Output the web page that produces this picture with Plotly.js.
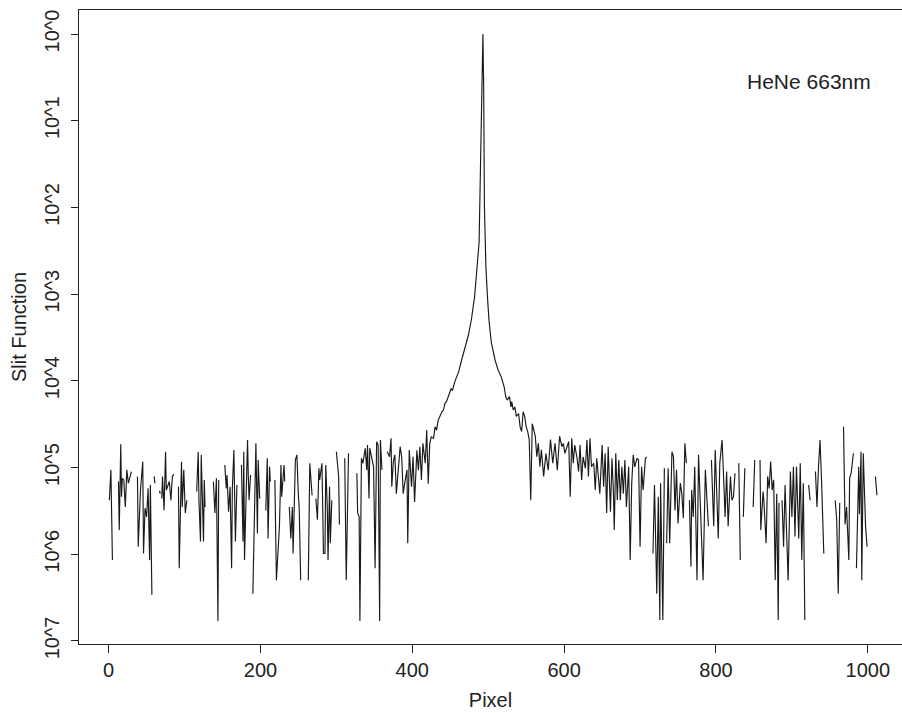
<!DOCTYPE html>
<html>
<head>
<meta charset="utf-8">
<script src="https://cdn.plot.ly/plotly-3.0.1.min.js"></script>
<style>html,body{margin:0;padding:0;background:#fff;}#chart{width:902px;height:713px;}</style>
</head>
<body>
<div id="chart"></div>
<script>
// Pixel index and slit-function value (null = non-positive value, not drawn on log axis)
const pixel = [
1,3,5,9,13,14,16,17,18,20,22,24,26,28,30,34,38,39,42,45,46,48,50,52,54,55,57,58,60,61,64,67,68,69,
70,71,73,75,76,80,82,84,86,89,92,93,96,97,99,101,103,110,116,118,119,121,122,125,126,127,132,
138,140,142,144,145,149,153,155,156,158,160,162,163,165,167,169,172,175,177,178,179,181,183,184,185,187,188,
190,194,196,197,199,203,207,209,210,212,213,216,219,221,225,227,228,231,232,235,238,240,242,243,246,248,250,251,253,258,
263,265,268,270,273,275,277,278,281,283,285,286,288,289,291,292,294,297,300,303,304,308,311,313,316,321,
327,328,330,331,333,335,338,340,341,343,344,346,349,351,353,355,357,358,360,364,
367,370,372,373,375,377,379,382,384,386,388,390,393,394,396,399,401,403,406,408,410,412,414,417,419,421,423,425,428,
430,432,434,436,439,441,443,445,447,449,451,453,456,461,465,469,474,478,482,485,487,488,493,494,495,496,497,499,
501,504,509,513,517,521,523,525,528,530,531,533,535,537,540,542,544,546,548,550,552,554,556,558,562,564,566,568,570,
573,576,579,582,585,588,591,594,597,599,601,603,606,608,610,612,614,617,619,621,623,625,628,630,632,634,636,639,641,
643,645,647,650,652,654,656,658,661,663,665,666,668,670,672,674,676,678,680,682,685,687,689,691,693,696,698,700,702,
704,707,709,713,717,719,722,724,726,727,730,732,733,735,737,739,742,744,746,748,750,753,755,757,759,761,763,
765,767,768,770,772,775,777,779,781,783,786,788,790,792,794,797,799,801,803,805,808,810,812,814,816,819,821,823,825,827,
830,832,834,836,838,843,849,851,855,858,859,862,863,866,868,870,872,874,876,878,880,882,883,885,
887,889,891,893,895,898,900,902,904,906,909,911,913,915,917,919,922,924,927,931,933,935,937,939,942,950,
957,959,961,963,965,968,969,970,972,975,976,978,981,983,985,988,989,991,992,994,997,999,1005,1010,1012
];
const slit = [
4.2e-6,9.4e-6,8.6e-7,null,6.9e-6,1.9e-6,1.86e-5,4.6e-6,7.5e-6,7.2e-6,3.5e-6,9.4e-6,6.6e-6,7.9e-6,9.0e-6,null,7.9e-6,1.22e-6,5.5e-6,1.17e-5,1.02e-6,3.4e-6,2.7e-6,5.75e-6,8.6e-7,6.3e-6,3.4e-7,null,7.9e-6,6.6e-6,null,5.4e-6,5.0e-6,null,
4.4e-6,7.9e-6,3.2e-6,1.52e-5,5.5e-6,6.9e-6,4.2e-6,7.9e-6,8.4e-6,null,6.0e-6,6.9e-7,1.17e-5,3.5e-6,9.4e-6,3.0e-6,4.2e-6,null,5.3e-6,1.52e-5,4.2e-6,1.4e-6,1.4e-5,1.4e-6,7.2e-6,3.5e-6,null,
6.9e-6,3.0e-6,7.5e-6,1.7e-7,7.2e-6,null,1.07e-5,5.75e-6,8.2e-6,3.1e-6,6.0e-6,6.9e-7,5.75e-6,1.59e-5,1.4e-6,6.3e-6,null,1.07e-5,1.4e-6,1.52e-5,8.6e-7,4.2e-6,2.08e-5,7.9e-6,4.2e-6,8.2e-6,null,
3.5e-7,1.9e-5,1.74e-6,1.22e-5,4.4e-6,null,3.2e-6,1.28e-5,1.52e-6,1.02e-5,6.9e-6,null,7.2e-6,5.0e-7,2.1e-6,1.07e-5,4.6e-6,1.07e-5,6.9e-6,null,3.5e-6,1.52e-6,3.5e-6,1.02e-6,1.22e-5,1.4e-5,4.6e-6,3.5e-6,5.0e-7,null,
5.0e-7,1.12e-5,4.8e-6,null,4.4e-6,2.5e-6,9.8e-6,7.2e-6,1.12e-5,1.02e-6,1.02e-6,1.07e-5,3.5e-6,8.6e-7,6.0e-6,1.34e-6,4.2e-6,null,1.52e-5,7.9e-6,2.2e-6,null,1.28e-5,5.0e-7,1.46e-5,null,
8.6e-6,3.0e-6,2.7e-6,1.7e-7,1.28e-5,1.12e-5,1.67e-5,9.4e-6,1.82e-5,4.4e-6,1.67e-5,1.4e-5,1.02e-5,6.9e-7,1.99e-5,1.82e-5,1.7e-7,2.08e-5,9.4e-6,null,
1.52e-5,1.33e-5,2.17e-5,6.0e-6,1.17e-5,1.4e-5,5.0e-6,9.4e-6,1.74e-5,1.33e-5,5.0e-6,6.6e-6,9.4e-6,1.34e-6,1.59e-5,6.0e-6,1.33e-5,4.0e-6,1.58e-5,9.3e-6,1.74e-5,7.2e-6,1.9e-5,1.12e-5,2.7e-5,6.5e-6,1.9e-5,2.26e-5,2.17e-5,
2.95e-5,2.7e-5,3.5e-5,3.9e-5,4.4e-5,4.6e-5,5.5e-5,5.75e-5,6.6e-5,7.2e-5,8.1e-5,7.8e-5,9.8e-5,1.27e-4,1.74e-4,2.37e-4,3.4e-4,5.2e-4,9.3e-4,1.9e-3,3.2e-3,4.0e-3,1.0,0.25,0.01,2.8e-3,2.0e-3,9.3e-4,
5.0e-4,2.8e-4,1.74e-4,1.33e-4,1.12e-4,8.5e-5,6.6e-5,6.0e-5,6.6e-5,5.0e-5,5.75e-5,4.6e-5,5.0e-5,3.9e-5,4.2e-5,2.95e-5,2.6e-5,4.4e-5,3.9e-5,2.95e-5,2.6e-5,2.1e-5,4.2e-6,3.2e-5,2.3e-5,1.33e-5,1.9e-5,1.02e-5,1.6e-5,
7.9e-6,1.45e-5,9.3e-6,2.1e-5,1.12e-5,1.9e-5,9.3e-6,2.3e-5,1.74e-5,1.9e-5,1.46e-5,1.67e-5,1.99e-5,4.6e-6,2.17e-5,1.12e-5,1.82e-5,1.28e-5,9.0e-6,1.82e-5,7.2e-6,1.33e-5,9.8e-6,2.08e-5,7.9e-6,2.17e-5,1.02e-5,1.12e-5,5.5e-6,
1.28e-5,7.2e-6,5.0e-6,1.82e-5,6.0e-6,1.46e-5,3.0e-6,1.74e-5,3.1e-6,1.28e-5,5.0e-6,1.9e-6,1.46e-5,4.2e-6,1.22e-5,4.2e-6,1.02e-5,5.0e-6,1.22e-5,3.5e-6,1.02e-5,8.6e-7,6.6e-6,1.4e-5,1.02e-5,1.28e-5,1.22e-5,1.22e-6,1.02e-5,
5.5e-6,1.28e-5,1.33e-5,null,1.02e-6,6.3e-6,3.5e-7,4.6e-6,1.75e-7,6.6e-6,1.75e-7,9.8e-6,null,1.34e-6,9.8e-6,1.34e-6,1.52e-5,1.33e-5,3.2e-6,9.4e-6,2.27e-6,6.6e-6,5.0e-6,2.6e-6,1.9e-5,1.12e-5,null,
4.2e-6,7.2e-7,5.5e-6,2.7e-6,1.02e-5,5.0e-7,1.4e-5,3.9e-6,1.02e-6,5.0e-7,9.4e-6,3.9e-6,2.1e-6,null,1.22e-5,2.1e-6,1.59e-5,5.5e-6,1.52e-6,1.12e-5,2.08e-5,7.9e-6,2.7e-6,9.0e-6,2.1e-6,7.9e-6,4.2e-6,4.6e-6,8.6e-6,null,
1.12e-5,8.6e-7,null,2.7e-6,9.8e-6,null,3.5e-6,1.22e-5,null,1.22e-5,1.9e-6,5.3e-6,4.2e-6,1.34e-6,7.9e-6,5.75e-6,1.17e-5,5.5e-6,7.2e-6,5.0e-7,5.0e-6,1.75e-7,3.9e-6,null,
4.2e-6,1.22e-6,6.3e-6,1.52e-6,5.0e-7,9.0e-6,2.7e-6,1.02e-5,1.6e-6,1.02e-5,1.52e-6,1.12e-5,8.6e-7,6.6e-6,1.75e-7,null,6.3e-6,4.2e-6,null,9.0e-6,3.5e-6,1.02e-5,2.08e-5,7.2e-6,1.02e-6,null,
4.2e-6,2.5e-6,3.5e-7,3.9e-6,null,2.95e-5,8.2e-6,2.2e-6,3.5e-6,8.6e-7,7.5e-6,8.6e-6,1.46e-5,null,6.9e-7,1.02e-5,2.9e-6,1.52e-5,5.0e-7,1.46e-5,2.1e-6,1.22e-6,null,7.9e-6,4.8e-6
];

const xTickVals = [0, 200, 400, 600, 800, 1000];
const yTickVals = [1, 1e-1, 1e-2, 1e-3, 1e-4, 1e-5, 1e-6, 1e-7];
const yTickText = ["10^0", "10^1", "10^2", "10^3", "10^4", "10^5", "10^6", "10^7"];
const label = "HeNe 663nm";

const FONT = "Liberation Sans, Arial, Helvetica, sans-serif";
const INK = "#222222";

const trace = {
  x: pixel,
  y: slit,
  type: "scatter",
  mode: "lines",
  connectgaps: false,
  line: {color: "#1a1a1a", width: 1.15},
  hoverinfo: "skip"
};

const layout = {
  width: 902,
  height: 713,
  margin: {l: 79, r: 0, t: 10, b: 69},
  paper_bgcolor: "#ffffff",
  plot_bgcolor: "#ffffff",
  showlegend: false,
  font: {family: FONT, size: 20, color: INK},
  xaxis: {
    range: [-39, 1045],
    tickvals: xTickVals,
    ticks: "outside",
    ticklen: 8,
    tickwidth: 1,
    tickcolor: INK,
    showline: true,
    linecolor: INK,
    linewidth: 1.3,
    mirror: true,
    showgrid: false,
    zeroline: false,
    tickfont: {family: FONT, size: 20, color: INK},
    title: {text: "Pixel", font: {family: FONT, size: 20, color: INK}, standoff: 12}
  },
  yaxis: {
    type: "log",
    range: [-7.035, 0.277],
    tickvals: yTickVals,
    ticktext: yTickText,
    tickangle: -90,
    ticks: "outside",
    ticklen: 7,
    tickwidth: 1,
    tickcolor: INK,
    ticklabelstandoff: 4,
    showline: true,
    linecolor: INK,
    linewidth: 1.3,
    showgrid: false,
    zeroline: false,
    tickfont: {family: FONT, size: 20, color: INK},
    title: {text: "Slit Function", font: {family: FONT, size: 20, color: INK}, standoff: 8}
  },
  annotations: [{
    text: label,
    xref: "paper", yref: "paper",
    x: 0.887, y: 0.888,
    xanchor: "center", yanchor: "middle",
    showarrow: false,
    font: {family: FONT, size: 21, color: INK}
  }]
};

Plotly.newPlot("chart", [trace], layout, {staticPlot: true, displayModeBar: false});
</script>
</body>
</html>
